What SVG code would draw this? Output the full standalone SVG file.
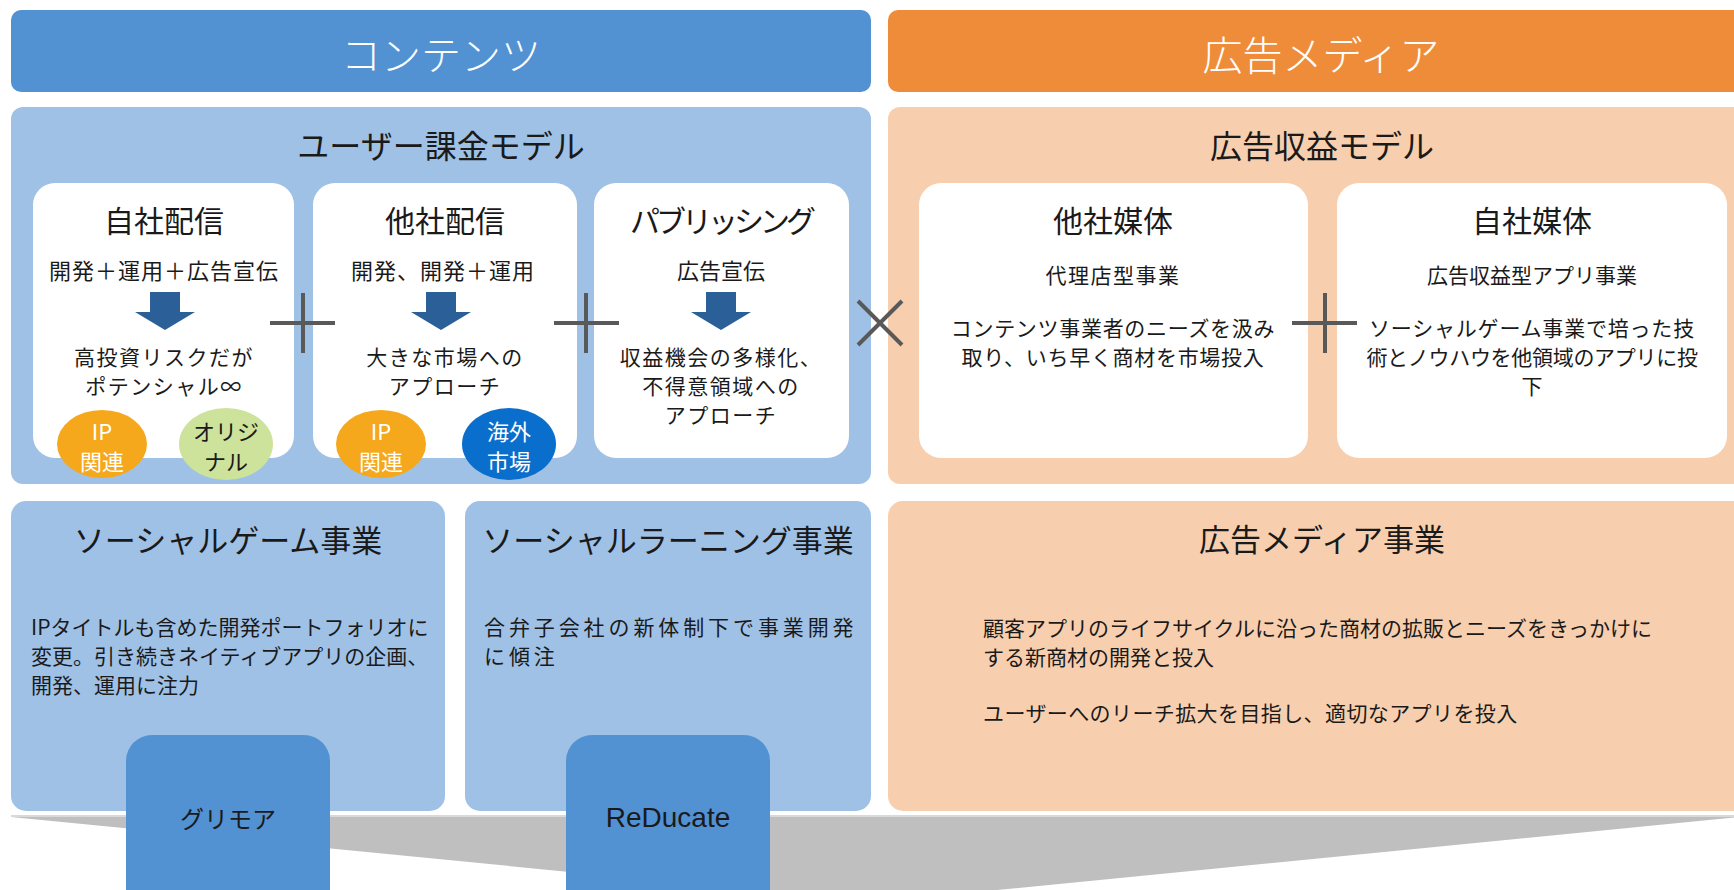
<svg xmlns="http://www.w3.org/2000/svg" width="1734" height="890" viewBox="0 0 1734 890">
<style>
text{font-family:"Noto Sans CJK JP","Noto Sans",sans-serif;dominant-baseline:central;fill:#1a1a1a}
.c{text-anchor:middle}
.ban{font-size:40px;fill:#fff;font-weight:300}
.ttl{font-size:32px}
.hd{font-size:30px}
.hd2{font-size:31px}
.sub{font-size:22px}
.mid{font-size:21px;letter-spacing:1.5px}
.body{font-size:21px}
.w{fill:#fff}
.card{fill:#fff}
.op{stroke:#595959;stroke-width:4;fill:none}
.arr{fill:#2B5F97}
</style>
<rect width="1734" height="890" fill="#fff"/>
<g id="banner-contents"><rect x="11" y="10" width="860" height="82" rx="10" fill="#5291D2"/><text class="c ban" x="441" y="53">コンテンツ</text></g>
<g id="banner-admedia"><rect x="888" y="10" width="870" height="82" rx="10" fill="#EF8C3A"/><text class="c ban" x="1321" y="53">広告メディア</text></g>
<g id="panel-user"><rect x="11" y="107" width="860" height="377" rx="12" fill="#A0C1E6"/><text class="c ttl" x="441" y="144">ユーザー課金モデル</text></g>
<g id="panel-ad"><rect x="888" y="107" width="870" height="377" rx="12" fill="#F8CFAE"/><text class="c ttl" x="1322" y="144">広告収益モデル</text></g>
<g id="card-jisha">
<rect class="card" x="33" y="183" width="261" height="275" rx="22"/>
<text class="c hd" x="164" y="219">自社配信</text>
<text class="c sub" x="164" y="269" font-size="23" letter-spacing="1">開発＋運用＋広告宣伝</text>
<polygon class="arr" points="150,292 180,292 180,312 195,312 165,330 135,312 150,312"/>
<text class="c mid" x="164" y="356">高投資リスクだが</text>
<text class="c mid" x="164" y="385">ポテンシャル∞</text>
</g>
<g id="badge-ip1"><ellipse cx="102" cy="444" rx="45" ry="34" fill="#F5A81C"/><text class="c sub w" x="102" y="430">IP</text><text class="c sub w" x="102" y="460">関連</text></g>
<g id="badge-original"><ellipse cx="226" cy="444" rx="47" ry="36" fill="#CDE29B"/><text class="c sub" x="226" y="430">オリジ</text><text class="c sub" x="226" y="460">ナル</text></g>
<g id="card-tasha">
<rect class="card" x="313" y="183" width="264" height="275" rx="22"/>
<text class="c hd" x="445" y="219">他社配信</text>
<text class="c sub" x="443" y="269" font-size="23" letter-spacing="1">開発、開発＋運用</text>
<polygon class="arr" points="426,292 456,292 456,312 471,312 441,330 411,312 426,312"/>
<text class="c mid" x="445" y="356">大きな市場への</text>
<text class="c mid" x="445" y="385">アプローチ</text>
</g>
<g id="badge-ip2"><ellipse cx="381" cy="444" rx="45" ry="34" fill="#F5A81C"/><text class="c sub w" x="381" y="430">IP</text><text class="c sub w" x="381" y="460">関連</text></g>
<g id="badge-overseas"><ellipse cx="509" cy="444" rx="47" ry="36" fill="#0A6ECC"/><text class="c sub w" x="509" y="430">海外</text><text class="c sub w" x="509" y="460">市場</text></g>
<g id="card-publishing">
<rect class="card" x="594" y="183" width="255" height="275" rx="22"/>
<text class="c hd" x="721" y="219" letter-spacing="-4">パブリッシング</text>
<text class="c sub" x="721" y="269">広告宣伝</text>
<polygon class="arr" points="706,292 736,292 736,312 751,312 721,330 691,312 706,312"/>
<text class="c mid" x="721" y="356">収益機会の多様化、</text>
<text class="c mid" x="721" y="385">不得意領域への</text>
<text class="c mid" x="721" y="414">アプローチ</text>
</g>
<g id="card-tashabaitai">
<rect class="card" x="919" y="183" width="389" height="275" rx="22"/>
<text class="c hd" x="1113" y="219">他社媒体</text>
<text class="c body" x="1113" y="274" font-size="22" letter-spacing="1.5">代理店型事業</text>
<text class="c body" x="1113" y="327" letter-spacing="0.7">コンテンツ事業者のニーズを汲み</text>
<text class="c body" x="1113" y="356" letter-spacing="0.7">取り、いち早く商材を市場投入</text>
</g>
<g id="card-jishabaitai">
<rect class="card" x="1337" y="183" width="390" height="275" rx="22"/>
<text class="c hd" x="1532" y="219">自社媒体</text>
<text class="c body" x="1532" y="274" font-size="22">広告収益型アプリ事業</text>
<text class="c body" x="1532" y="327" letter-spacing="0.8">ソーシャルゲーム事業で培った技</text>
<text class="c body" x="1532" y="356" letter-spacing="-0.3">術とノウハウを他領域のアプリに投</text>
<text class="c body" x="1532" y="385">下</text>
</g>
<g id="connectors">
<path class="op" d="M270,323H335M303,293V353"/>
<path class="op" d="M554,323H619M586,293V353"/>
<path class="op" d="M858,301L902,345M902,301L858,345"/>
<path class="op" d="M1292,323H1357M1325,293V353"/>
</g>
<g id="funnel"><polygon points="11,817 1740,817 875,902" fill="#BFBFBF"/><line x1="11" y1="816" x2="1740" y2="816" stroke="#D9D9D9" stroke-width="2"/></g>
<g id="panel-socialgame">
<rect x="11" y="501" width="434" height="310" rx="15" fill="#A0C1E6"/>
<text class="c hd2" x="228" y="538">ソーシャルゲーム事業</text>
<text class="body" x="31" y="626" font-size="22">IPタイトルも含めた開発ポートフォリオに</text>
<text class="body" x="31" y="655" font-size="22">変更。引き続きネイティブアプリの企画、</text>
<text class="body" x="31" y="684" font-size="22">開発、運用に注力</text>
</g>
<g id="panel-sociallearning">
<rect x="465" y="501" width="406" height="310" rx="15" fill="#A0C1E6"/>
<text class="c hd2" x="668" y="538">ソーシャルラーニング事業</text>
<text class="body" x="484" y="626" font-size="22" letter-spacing="3.9">合弁子会社の新体制下で事業開発</text>
<text class="body" x="484" y="655" font-size="22" letter-spacing="3.9">に傾注</text>
</g>
<g id="panel-admedia">
<rect x="888" y="501" width="870" height="310" rx="15" fill="#F8CFAE"/>
<text class="c hd2" x="1322" y="537">広告メディア事業</text>
<text class="body" x="983" y="627">顧客アプリのライフサイクルに沿った商材の拡販とニーズをきっかけに</text>
<text class="body" x="983" y="656">する新商材の開発と投入</text>
<text class="body" x="983" y="712" letter-spacing="0.4">ユーザーへのリーチ拡大を目指し、適切なアプリを投入</text>
</g>
<g id="box-grimoire"><rect x="126" y="735" width="204" height="190" rx="26" fill="#5291D2"/><text class="c" x="228" y="817" font-size="24">グリモア</text></g>
<g id="box-reducate"><rect x="566" y="735" width="204" height="190" rx="26" fill="#5291D2"/><text class="c" x="668" y="817" font-size="28" style="font-family:'Liberation Sans',Arial,sans-serif">ReDucate</text></g>
</svg>
